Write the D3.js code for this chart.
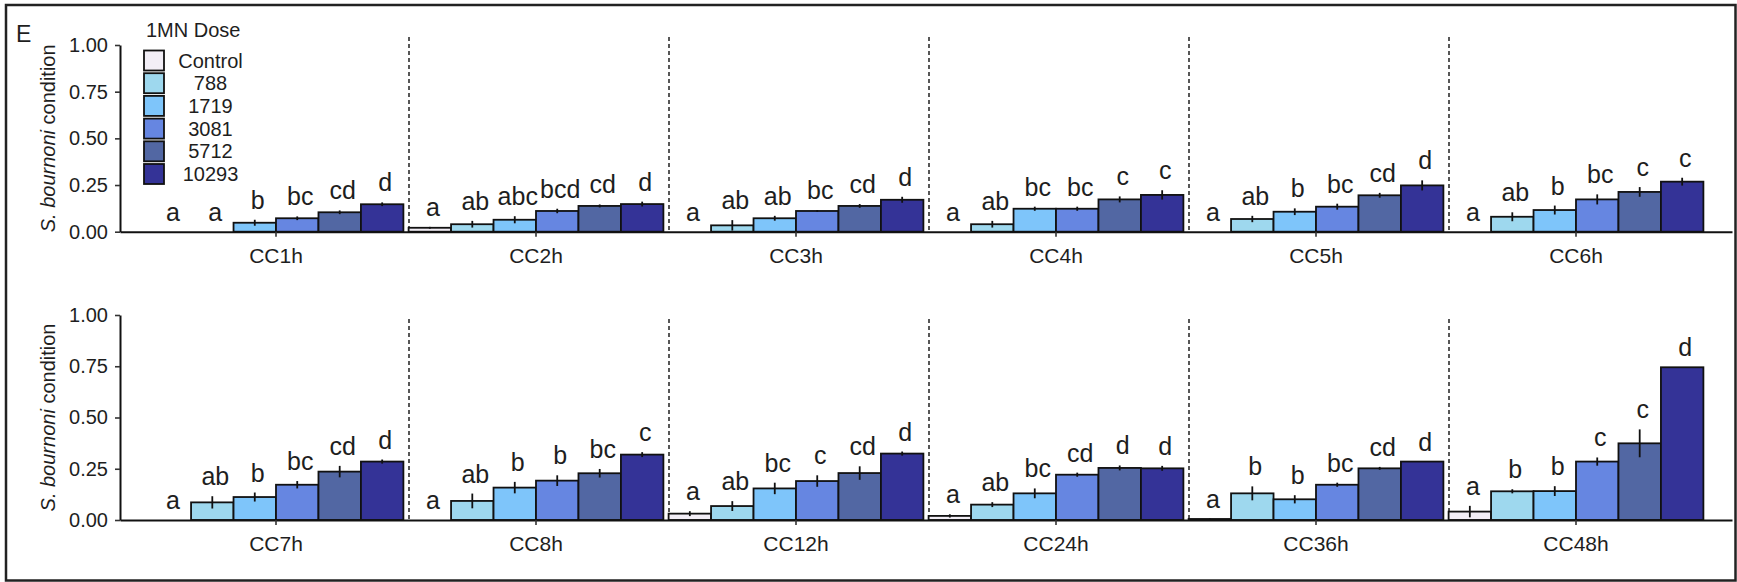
<!DOCTYPE html>
<html>
<head>
<meta charset="utf-8">
<script src="https://cdn.jsdelivr.net/npm/d3@7"></script>
<style>
  body { margin: 0; background: #fff; }
  text { font-family: "Liberation Sans", Arial, sans-serif; fill: #1e1e1e; }
</style>
</head>
<body>
<script>
// dose levels (legend order) and their fills
const doses = ["Control", "788", "1719", "3081", "5712", "10293"];
const doseColors = ["#F2EEF6", "#9ED8EE", "#7EC5FA", "#6686E1", "#5267A3", "#343397"];

// time points, top row then bottom row
const times = ["CC1h", "CC2h", "CC3h", "CC4h", "CC5h", "CC6h",
               "CC7h", "CC8h", "CC12h", "CC24h", "CC36h", "CC48h"];

// mean condition, one row per time point, one value per dose
const means = [
  [0.000, 0.000, 0.048, 0.072, 0.104, 0.147],
  [0.021, 0.040, 0.064, 0.111, 0.138, 0.148],
  [0.000, 0.034, 0.072, 0.111, 0.138, 0.171],
  [0.000, 0.040, 0.123, 0.123, 0.173, 0.197],
  [0.000, 0.068, 0.107, 0.134, 0.195, 0.248],
  [0.000, 0.080, 0.116, 0.173, 0.213, 0.268],
  [0.000, 0.086, 0.112, 0.172, 0.236, 0.285],
  [0.000, 0.093, 0.158, 0.192, 0.228, 0.319],
  [0.031, 0.068, 0.154, 0.190, 0.229, 0.324],
  [0.020, 0.075, 0.130, 0.221, 0.254, 0.252],
  [0.005, 0.130, 0.101, 0.172, 0.252, 0.285],
  [0.041, 0.140, 0.141, 0.285, 0.374, 0.745]
];

// standard errors, same layout
const errs = [
  [0.000, 0.000, 0.016, 0.010, 0.010, 0.010],
  [0.005, 0.018, 0.019, 0.012, 0.008, 0.013],
  [0.000, 0.028, 0.013, 0.005, 0.010, 0.016],
  [0.000, 0.018, 0.011, 0.011, 0.016, 0.025],
  [0.000, 0.017, 0.018, 0.016, 0.013, 0.027],
  [0.000, 0.024, 0.024, 0.027, 0.026, 0.021],
  [0.000, 0.030, 0.022, 0.018, 0.028, 0.010],
  [0.000, 0.036, 0.028, 0.026, 0.021, 0.012],
  [0.012, 0.024, 0.028, 0.028, 0.033, 0.010],
  [0.008, 0.012, 0.024, 0.010, 0.012, 0.012],
  [0.002, 0.034, 0.020, 0.010, 0.007, 0.000],
  [0.028, 0.010, 0.024, 0.020, 0.068, 0.000]
];

// significance letters
const letters = [
  ["a", "a", "b", "bc", "cd", "d"],
  ["a", "ab", "abc", "bcd", "cd", "d"],
  ["a", "ab", "ab", "bc", "cd", "d"],
  ["a", "ab", "bc", "bc", "c", "c"],
  ["a", "ab", "b", "bc", "cd", "d"],
  ["a", "ab", "b", "bc", "c", "c"],
  ["a", "ab", "b", "bc", "cd", "d"],
  ["a", "ab", "b", "b", "bc", "c"],
  ["a", "ab", "bc", "c", "cd", "d"],
  ["a", "ab", "bc", "cd", "d", "d"],
  ["a", "b", "b", "bc", "cd", "d"],
  ["a", "b", "b", "c", "c", "d"]
];

const yTicks = [0, 0.25, 0.5, 0.75, 1];

const W = 1737, H = 582;

const svg = d3.select("body").append("svg")
    .attr("width", W)
    .attr("height", H);

// outer frame
svg.append("rect")
    .attr("x", 6).attr("y", 5)
    .attr("width", 1729.5).attr("height", 575.5)
    .attr("fill", "none")
    .attr("stroke", "#222")
    .attr("stroke-width", 2.5);

svg.append("text")
    .attr("x", 16).attr("y", 42)
    .attr("font-size", 23)
    .text("E");

// two rows of the figure
const panels = [
  { rows: d3.range(0, 6), top: 45, bottom: 231.7, dashTop: 37 },
  { rows: d3.range(6, 12), top: 315, bottom: 520, dashTop: 319 }
];

const left = 120, right = 1732;

panels.forEach((p) => {
    const g = svg.append("g");

    const x = d3.scaleBand()
        .domain(p.rows)
        .range([left, right])
        .paddingInner(0)
        .paddingOuter(0.1);
    const bw = x.bandwidth();

    // dodge inside each time point
    const xsub = d3.scaleBand()
        .domain(doses)
        .range([-0.49 * bw, 0.49 * bw]);

    const y = d3.scaleLinear().domain([0, 1]).range([p.bottom, p.top]);

    // dashed separators
    g.selectAll("line.sep")
        .data(p.rows.slice(0, 5))
        .join("line")
        .attr("class", "sep")
        .attr("x1", (r) => x(r) + bw + 3)
        .attr("x2", (r) => x(r) + bw + 3)
        .attr("y1", p.dashTop)
        .attr("y2", p.bottom)
        .attr("stroke", "#111")
        .attr("stroke-width", 1.4)
        .attr("stroke-dasharray", "4,3");

    // flatten rows into bar records
    const bars = [];
    p.rows.forEach((r) => {
        doses.forEach((d, i) => {
            bars.push({ r: r, dose: d, i: i, m: means[r][i], e: errs[r][i], lab: letters[r][i] });
        });
    });

    const cx = (b) => x(b.r) + bw / 2 + xsub(b.dose) + xsub.bandwidth() / 2;

    g.selectAll("rect.bar")
        .data(bars)
        .join("rect")
        .attr("class", "bar")
        .attr("x", (b) => x(b.r) + bw / 2 + xsub(b.dose))
        .attr("width", xsub.bandwidth())
        .attr("y", (b) => y(b.m))
        .attr("height", (b) => y(0) - y(b.m))
        .attr("fill", (b) => doseColors[b.i])
        .attr("stroke", "#111")
        .attr("stroke-width", 1.8);

    g.selectAll("line.err")
        .data(bars.filter((b) => b.e > 0))
        .join("line")
        .attr("class", "err")
        .attr("x1", cx).attr("x2", cx)
        .attr("y1", (b) => y(b.m - b.e))
        .attr("y2", (b) => y(b.m + b.e))
        .attr("stroke", "#111")
        .attr("stroke-width", 1.8);

    g.selectAll("text.lab")
        .data(bars)
        .join("text")
        .attr("class", "lab")
        .attr("x", (b) => cx(b) + 3)
        .attr("y", (b) => y(b.m + b.e) - 11)
        .attr("text-anchor", "middle")
        .attr("font-size", 25)
        .attr("fill", "#000")
        .text((b) => b.lab);

    // axes
    const yaxis = d3.axisLeft(y)
        .tickValues(yTicks)
        .tickFormat(d3.format(".2f"))
        .tickSize(5)
        .tickSizeOuter(0)
        .tickPadding(7);
    const gy = g.append("g").attr("transform", `translate(${left},0)`).call(yaxis);

    const xaxis = d3.axisBottom(x)
        .tickFormat((r) => times[r])
        .tickSize(5)
        .tickSizeOuter(0)
        .tickPadding(11);
    const gx = g.append("g").attr("transform", `translate(0,${p.bottom})`).call(xaxis);

    [gx, gy].forEach((ax) => {
        ax.select(".domain").attr("stroke", "#111").attr("stroke-width", 2);
        ax.selectAll(".tick line").attr("stroke", "#333").attr("stroke-width", 1.6);
        ax.selectAll(".tick text")
            .attr("font-family", '"Liberation Sans", Arial, sans-serif')
            .attr("fill", "#222");
    });
    gy.selectAll(".tick text").attr("font-size", 20);
    gx.selectAll(".tick text").attr("font-size", 21);

    // y title
    const yt = g.append("text")
        .attr("transform", `translate(55,${(p.top + p.bottom) / 2}) rotate(-90)`)
        .attr("text-anchor", "middle")
        .attr("font-size", 20)
        .attr("fill", "#222");
    yt.append("tspan").attr("font-style", "italic").text("S. bournoni");
    yt.append("tspan").text(" condition");
});

// legend
const leg = svg.append("g");
leg.append("text")
    .attr("x", 146).attr("y", 36.5)
    .attr("font-size", 20)
    .text("1MN Dose");

const keys = leg.selectAll("g.key")
    .data(doses)
    .join("g")
    .attr("class", "key")
    .attr("transform", (d, i) => `translate(144,${50.5 + i * 22.7})`);

keys.append("rect")
    .attr("width", 20).attr("height", 20)
    .attr("fill", (d, i) => doseColors[i])
    .attr("stroke", "#111")
    .attr("stroke-width", 1.8);

keys.append("text")
    .attr("x", 66.5).attr("y", 10)
    .attr("dy", "0.35em")
    .attr("text-anchor", "middle")
    .attr("font-size", 20)
    .text((d) => d);
</script>
</body>
</html>
